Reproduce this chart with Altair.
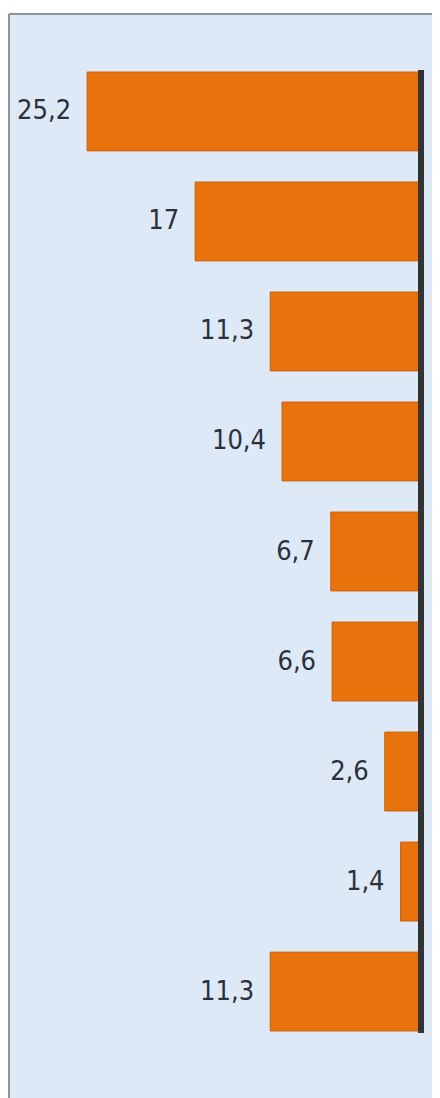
import altair as alt
import pandas as pd

categories = ["1", "2", "3", "4", "5", "6", "7", "8", "9"]
values = [25.2, 17, 11.3, 10.4, 6.7, 6.6, 2.6, 1.4, 11.3]
labels = ["25,2", "17", "11,3", "10,4", "6,7", "6,6", "2,6", "1,4", "11,3"]

df = pd.DataFrame({"cat": categories, "value": values, "label": labels})

xscale = alt.Scale(domain=[0, 31.13], range=[410, 0], nice=False, zero=True)
yscale = alt.Scale(domain=categories, range=[58, 1017], paddingInner=0.283, paddingOuter=0)

base = alt.Chart(df)

bars = base.mark_bar(color="#E8720C", stroke="#C9630E", strokeWidth=1).encode(
    x=alt.X("value:Q", scale=xscale, axis=None),
    x2=alt.datum(0),
    y=alt.Y("cat:N", scale=yscale, axis=None, sort=categories),
)

text = base.mark_text(
    align="right", baseline="middle", dx=-16, dy=0,
    font="DejaVu Sans Condensed",
    fontSize=27, color="#2b303a",
).encode(
    x=alt.X("value:Q", scale=xscale, axis=None),
    y=alt.Y("cat:N", scale=yscale, axis=None, sort=categories, bandPosition=0.5),
    text="label:N",
)

axis_line = base.mark_rule(color="#333333", strokeWidth=5, xOffset=2).encode(
    x=alt.datum(0),
    y=alt.value(56),
    y2=alt.value(1019),
)

frame_top = base.mark_rule(color="#8d939b", strokeWidth=2).encode(
    x=alt.value(0), x2=alt.value(430), y=alt.value(0),
)
frame_left = base.mark_rule(color="#8d939b", strokeWidth=2).encode(
    x=alt.value(0), y=alt.value(0), y2=alt.value(1100),
)

chart = alt.layer(bars, text, axis_line, frame_top, frame_left).properties(
    width=423, height=1090,
    padding={"left": 1, "top": 6, "right": 0, "bottom": 0},
    autosize=alt.AutoSizeParams(type="none"),
    background="white",
).configure_view(
    fill="#dde9f6", strokeWidth=0,
)

chart.save("out.html", embed_options={"renderer": "svg", "actions": False})
